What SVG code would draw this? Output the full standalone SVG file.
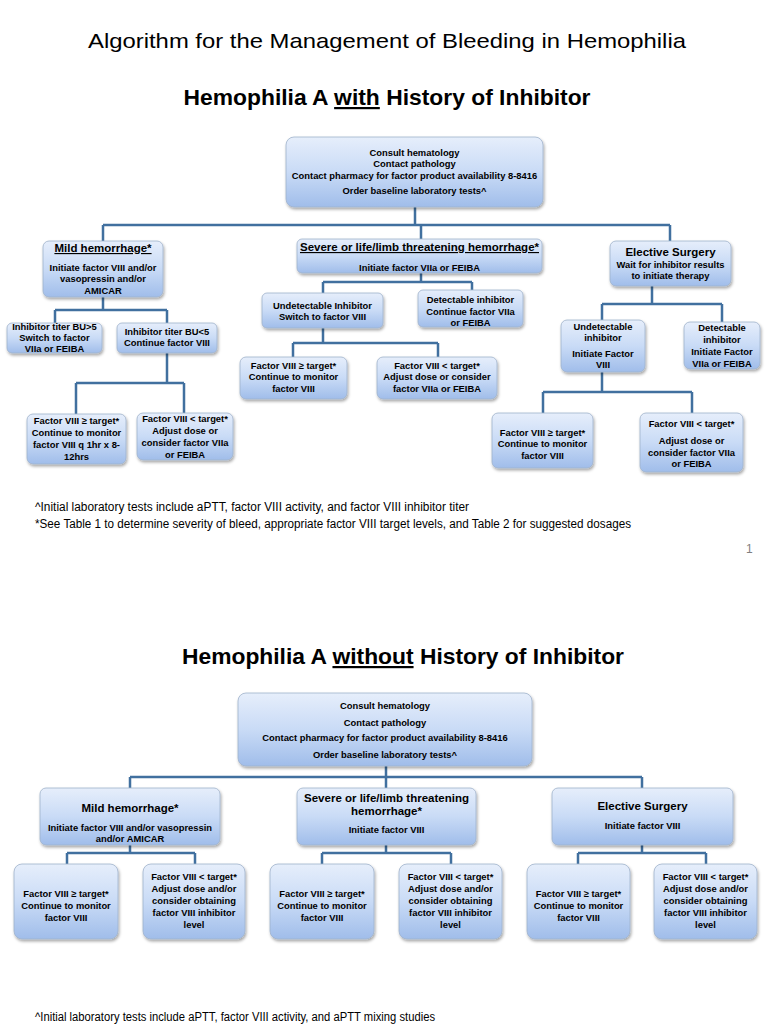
<svg xmlns="http://www.w3.org/2000/svg" width="768" height="1024" viewBox="0 0 768 1024">
<defs>
<linearGradient id="g" x1="0" y1="0" x2="0" y2="1">
<stop offset="0" stop-color="#e6eefb"/>
<stop offset="0.5" stop-color="#c9dbf6"/>
<stop offset="1" stop-color="#a0bdea"/>
</linearGradient>
<filter id="sh" x="-10%" y="-10%" width="125%" height="135%">
<feDropShadow dx="1" dy="2" stdDeviation="1.5" flood-color="#000" flood-opacity="0.35"/>
</filter>
<style>
.b{fill:url(#g);stroke:#9fb2cc;stroke-width:0.8;filter:url(#sh)}
.t{font-family:"Liberation Sans",Arial,sans-serif;font-weight:bold;font-size:9.4px;fill:#000;text-anchor:middle}
.h{font-size:11.5px}
.u{text-decoration:underline}
.c{fill:none;stroke:#41709f;stroke-width:2.5}
.ti{font-family:"Liberation Sans",Arial,sans-serif;fill:#000}
.fn{font-family:"Liberation Sans",Arial,sans-serif;font-size:12px;fill:#000}
</style>
</defs>
<rect width="768" height="1024" fill="#fff"/>

<text class="ti" x="387" y="48" font-size="21" text-anchor="middle" textLength="598" lengthAdjust="spacingAndGlyphs">Algorithm for the Management of Bleeding in Hemophilia</text>
<text class="ti" x="387" y="105" font-size="22" font-weight="bold" text-anchor="middle" textLength="407" lengthAdjust="spacingAndGlyphs">Hemophilia A <tspan text-decoration="underline">with</tspan> History of Inhibitor</text>

<g id="connectors-top">
<path class="c" d="M415 207V225M103 225H670M103 225V241M421 225V239M670 225V241"/>
<path class="c" d="M103 297V310M55 310H167M55 310V323M167 310V323"/>
<path class="c" d="M167 353V383M76 383H184M76 383V414M184 383V413"/>
<path class="c" d="M421 273V282M323 282H472M323 282V293M472 282V290"/>
<path class="c" d="M323 328V343M293 343H438M293 343V357M438 343V357"/>
<path class="c" d="M652 286V304M602 304H722M602 304V320M722 304V322"/>
<path class="c" d="M602 372V392M543 392H692M543 392V413M692 392V413"/>
</g>

<g id="top1"><rect class="b" x="286" y="137" width="257" height="70" rx="8"/>
<text class="t" x="414.5" y="155.5">Consult hematology</text>
<text class="t" x="414.5" y="166.5">Contact pathology</text>
<text class="t" x="414.5" y="178.5">Contact pharmacy for factor product availability 8-8416</text>
<text class="t" x="414.5" y="193.5">Order baseline laboratory tests^</text></g>

<g id="mild1"><rect class="b" x="43" y="241" width="120" height="56" rx="6"/>
<text class="t h u" x="103" y="252">Mild hemorrhage*</text>
<text class="t" x="103" y="270.5">Initiate factor VIII and/or</text>
<text class="t" x="103" y="281.5">vasopressin and/or</text>
<text class="t" x="103" y="293.5">AMICAR</text></g>

<g id="severe1"><rect class="b" x="297" y="239" width="245" height="34" rx="5"/>
<text class="t h u" x="419.5" y="251">Severe or life/limb threatening hemorrhage*</text>
<text class="t" x="419.5" y="270.5">Initiate factor VIIa or FEIBA</text></g>

<g id="elective1"><rect class="b" x="610" y="241" width="121" height="45" rx="6"/>
<text class="t h" x="670.5" y="256">Elective Surgery</text>
<text class="t" x="670.5" y="267.5">Wait for inhibitor results</text>
<text class="t" x="670.5" y="278.5">to initiate therapy</text></g>

<g id="bu-gt5"><rect class="b" x="7" y="323" width="95" height="30" rx="5"/>
<text class="t" x="54.5" y="329.5">Inhibitor titer BU&gt;5</text>
<text class="t" x="54.5" y="340.5">Switch to factor</text>
<text class="t" x="54.5" y="351.5">VIIa or FEIBA</text></g>

<g id="bu-lt5"><rect class="b" x="117" y="323" width="100" height="30" rx="5"/>
<text class="t" x="167" y="334.5">Inhibitor titer BU&lt;5</text>
<text class="t" x="167" y="345.5">Continue factor VIII</text></g>

<g id="mild-ge"><rect class="b" x="27" y="414" width="99" height="50" rx="6"/>
<text class="t" x="76.5" y="423.5">Factor VIII ≥ target*</text>
<text class="t" x="76.5" y="435.5">Continue to monitor</text>
<text class="t" x="76.5" y="447.5">factor VIII q 1hr x 8-</text>
<text class="t" x="76.5" y="459.5">12hrs</text></g>

<g id="mild-lt"><rect class="b" x="137" y="413" width="96" height="47" rx="6"/>
<text class="t" x="185" y="421.5">Factor VIII &lt; target*</text>
<text class="t" x="185" y="433.5">Adjust dose or</text>
<text class="t" x="185" y="445.5">consider factor VIIa</text>
<text class="t" x="185" y="457.5">or FEIBA</text></g>

<g id="undet1"><rect class="b" x="262" y="293" width="121" height="35" rx="5"/>
<text class="t" x="322.5" y="308.5">Undetectable Inhibitor</text>
<text class="t" x="322.5" y="319.5">Switch to factor VIII</text></g>

<g id="det1"><rect class="b" x="418" y="290" width="105" height="37" rx="5"/>
<text class="t" x="470.5" y="302.5">Detectable inhibitor</text>
<text class="t" x="470.5" y="314.5">Continue factor VIIa</text>
<text class="t" x="470.5" y="325.5">or FEIBA</text></g>

<g id="sev-ge"><rect class="b" x="240" y="357" width="107" height="42" rx="6"/>
<text class="t" x="293.5" y="368.5">Factor VIII ≥ target*</text>
<text class="t" x="293.5" y="379.5">Continue to monitor</text>
<text class="t" x="293.5" y="391.5">factor VIII</text></g>

<g id="sev-lt"><rect class="b" x="377" y="357" width="120" height="42" rx="6"/>
<text class="t" x="437" y="368.5">Factor VIII &lt; target*</text>
<text class="t" x="437" y="379.5">Adjust dose or consider</text>
<text class="t" x="437" y="391.5">factor VIIa or FEIBA</text></g>

<g id="undet2"><rect class="b" x="561" y="320" width="84" height="52" rx="6"/>
<text class="t" x="603" y="329.5">Undetectable</text>
<text class="t" x="603" y="340.5">inhibitor</text>
<text class="t" x="603" y="356.5">Initiate Factor</text>
<text class="t" x="603" y="367.5">VIII</text></g>

<g id="det2"><rect class="b" x="684" y="322" width="76" height="47" rx="6"/>
<text class="t" x="722" y="330.5">Detectable</text>
<text class="t" x="722" y="342.5">inhibitor</text>
<text class="t" x="722" y="354.5">Initiate Factor</text>
<text class="t" x="722" y="366.5">VIIa or FEIBA</text></g>

<g id="el-ge"><rect class="b" x="492" y="413" width="101" height="55" rx="6"/>
<text class="t" x="542.5" y="435.5">Factor VIII ≥ target*</text>
<text class="t" x="542.5" y="446.5">Continue to monitor</text>
<text class="t" x="542.5" y="458.5">factor VIII</text></g>

<g id="el-lt"><rect class="b" x="640" y="413" width="103" height="59" rx="6"/>
<text class="t" x="691.5" y="426.5">Factor VIII &lt; target*</text>
<text class="t" x="691.5" y="443.5">Adjust dose or</text>
<text class="t" x="691.5" y="455.5">consider factor VIIa</text>
<text class="t" x="691.5" y="466.5">or FEIBA</text></g>

<text class="fn" x="35" y="511" textLength="434" lengthAdjust="spacingAndGlyphs">^Initial laboratory tests include aPTT, factor VIII activity, and factor VIII inhibitor titer</text>
<text class="fn" x="35" y="528" textLength="596" lengthAdjust="spacingAndGlyphs">*See Table 1 to determine severity of bleed, appropriate factor VIII target levels, and Table 2 for suggested dosages</text>
<text class="fn" x="746" y="553" style="fill:#7f7f7f">1</text>

<text class="ti" x="403" y="664" font-size="22" font-weight="bold" text-anchor="middle" textLength="442" lengthAdjust="spacingAndGlyphs">Hemophilia A <tspan text-decoration="underline">without</tspan> History of Inhibitor</text>

<g id="connectors-bottom">
<path class="c" d="M386 766V788M130 777H642M130 777V788M642 777V788"/>
<path class="c" d="M130 845V853M67 853H195M67 853V864M195 853V864"/>
<path class="c" d="M386 845V853M322 853H451M322 853V864M451 853V864"/>
<path class="c" d="M642 845V853M578 853H706M578 853V864M706 853V864"/>
</g>

<g id="top2"><rect class="b" x="238" y="693" width="294" height="73" rx="8"/>
<text class="t" x="385" y="708.5">Consult hematology</text>
<text class="t" x="385" y="725.5">Contact pathology</text>
<text class="t" x="385" y="740.5">Contact pharmacy for factor product availability 8-8416</text>
<text class="t" x="385" y="757.5">Order baseline laboratory tests^</text></g>

<g id="mild2"><rect class="b" x="40" y="788" width="180" height="57" rx="6"/>
<text class="t h" x="130" y="812">Mild hemorrhage*</text>
<text class="t" x="130" y="830.5">Initiate factor VIII and/or vasopressin</text>
<text class="t" x="130" y="841.5">and/or AMICAR</text></g>

<g id="severe2"><rect class="b" x="297" y="788" width="179" height="57" rx="6"/>
<text class="t h" x="386.5" y="802">Severe or life/limb threatening</text>
<text class="t h" x="386.5" y="815">hemorrhage*</text>
<text class="t" x="386.5" y="832.5">Initiate factor VIII</text></g>

<g id="elective2"><rect class="b" x="552" y="788" width="181" height="57" rx="6"/>
<text class="t h" x="642.5" y="810">Elective Surgery</text>
<text class="t" x="642.5" y="828.5">Initiate factor VIII</text></g>

<g id="mild2-ge"><rect class="b" x="14" y="864" width="104" height="75" rx="8"/>
<text class="t" x="66" y="896.5">Factor VIII ≥ target*</text>
<text class="t" x="66" y="908.5">Continue to monitor</text>
<text class="t" x="66" y="920.5">factor VIII</text></g>

<g id="mild2-lt"><rect class="b" x="143" y="864" width="102" height="75" rx="8"/>
<text class="t" x="194" y="879.5">Factor VIII &lt; target*</text>
<text class="t" x="194" y="891.5">Adjust dose and/or</text>
<text class="t" x="194" y="903.5">consider obtaining</text>
<text class="t" x="194" y="915.5">factor VIII inhibitor</text>
<text class="t" x="194" y="927.5">level</text></g>

<g id="sev2-ge"><rect class="b" x="270" y="864" width="104" height="75" rx="8"/>
<text class="t" x="322" y="896.5">Factor VIII ≥ target*</text>
<text class="t" x="322" y="908.5">Continue to monitor</text>
<text class="t" x="322" y="920.5">factor VIII</text></g>

<g id="sev2-lt"><rect class="b" x="399" y="864" width="103" height="75" rx="8"/>
<text class="t" x="450.5" y="879.5">Factor VIII &lt; target*</text>
<text class="t" x="450.5" y="891.5">Adjust dose and/or</text>
<text class="t" x="450.5" y="903.5">consider obtaining</text>
<text class="t" x="450.5" y="915.5">factor VIII inhibitor</text>
<text class="t" x="450.5" y="927.5">level</text></g>

<g id="el2-ge"><rect class="b" x="527" y="864" width="103" height="75" rx="8"/>
<text class="t" x="578.5" y="896.5">Factor VIII ≥ target*</text>
<text class="t" x="578.5" y="908.5">Continue to monitor</text>
<text class="t" x="578.5" y="920.5">factor VIII</text></g>

<g id="el2-lt"><rect class="b" x="654" y="864" width="103" height="75" rx="8"/>
<text class="t" x="705.5" y="879.5">Factor VIII &lt; target*</text>
<text class="t" x="705.5" y="891.5">Adjust dose and/or</text>
<text class="t" x="705.5" y="903.5">consider obtaining</text>
<text class="t" x="705.5" y="915.5">factor VIII inhibitor</text>
<text class="t" x="705.5" y="927.5">level</text></g>

<text class="fn" x="35" y="1021" textLength="400" lengthAdjust="spacingAndGlyphs">^Initial laboratory tests include aPTT, factor VIII activity, and aPTT mixing studies</text>
</svg>
